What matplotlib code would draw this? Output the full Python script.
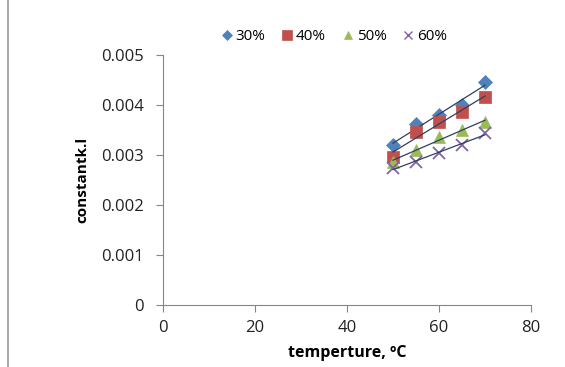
import numpy as np
import matplotlib
matplotlib.use("Agg")
import matplotlib.pyplot as plt
from matplotlib.lines import Line2D

plt.rcParams['font.family'] = ['Open Sans', 'DejaVu Sans']

temps = [50, 55, 60, 65, 70]
series_names = ["30%", "40%", "50%", "60%"]
k30 = [0.00320, 0.00362, 0.00380, 0.00400, 0.00446]
k40 = [0.00296, 0.00346, 0.00366, 0.00386, 0.00416]
k50 = [0.00286, 0.00310, 0.00336, 0.00350, 0.00366]
k60 = [0.00274, 0.00286, 0.00304, 0.00320, 0.00344]

colors = ['#4F81BD', '#C0504D', '#9BBB59', '#8064A2']
markers = ['D', 's', '^', 'x']
sizes = [7, 9, 8, 8]

fig = plt.figure(figsize=(5.65, 3.67), dpi=100)
ax = fig.add_axes([163/565, 1-305/367, (531-163)/565, (305-55)/367])

for vals, name, c, m, s in zip([k30, k40, k50, k60], series_names, colors, markers, sizes):
    ax.plot(temps, vals, linestyle='none', marker=m, color=c, markersize=s,
            markeredgewidth=1.3 if m == 'x' else 0.5, label=name)
    p = np.polyfit(temps, vals, 1)
    xs = np.array([temps[0], temps[-1]])
    ax.plot(xs, np.polyval(p, xs), color='#2F3F5F', linewidth=0.9)

ax.set_xlim(0, 80)
ax.set_ylim(0, 0.005)
ax.set_xticks([0, 20, 40, 60, 80])
ax.set_yticks([0, 0.001, 0.002, 0.003, 0.004, 0.005])
ax.set_yticklabels(['0', '0.001', '0.002', '0.003', '0.004', '0.005'])
for sp in ['top', 'right']:
    ax.spines[sp].set_visible(False)
for sp in ['left', 'bottom']:
    ax.spines[sp].set_color('#868686')
    ax.spines[sp].set_linewidth(0.8)
ax.tick_params(axis='both', direction='out', length=5, width=0.8, color='#868686',
               labelsize=12, labelcolor='#222222')
ax.tick_params(axis='y', pad=9)
ax.tick_params(axis='x', pad=6)
ax.set_xlabel('temperture, ºC', fontsize=11.5, fontweight='bold', labelpad=6)
ax.set_ylabel('constantk.l', fontsize=11, fontweight='bold', labelpad=8)

handles = [Line2D([], [], linestyle='none', marker=m, color=c, markersize=s*0.8,
                  markeredgewidth=1.0 if m == 'x' else 0.5)
           for c, m, s in zip(colors, markers, sizes)]
fig.legend(handles, series_names, loc='center', bbox_to_anchor=(333/565, 1-37/367),
           ncol=4, frameon=False, fontsize=11, handletextpad=0.1, columnspacing=0.9,
           handlelength=1.0)

fig.add_artist(Line2D([8/565, 8/565], [0, 1], color='#9a9a9a', linewidth=1.2))

fig.savefig('out.png', dpi=100)
